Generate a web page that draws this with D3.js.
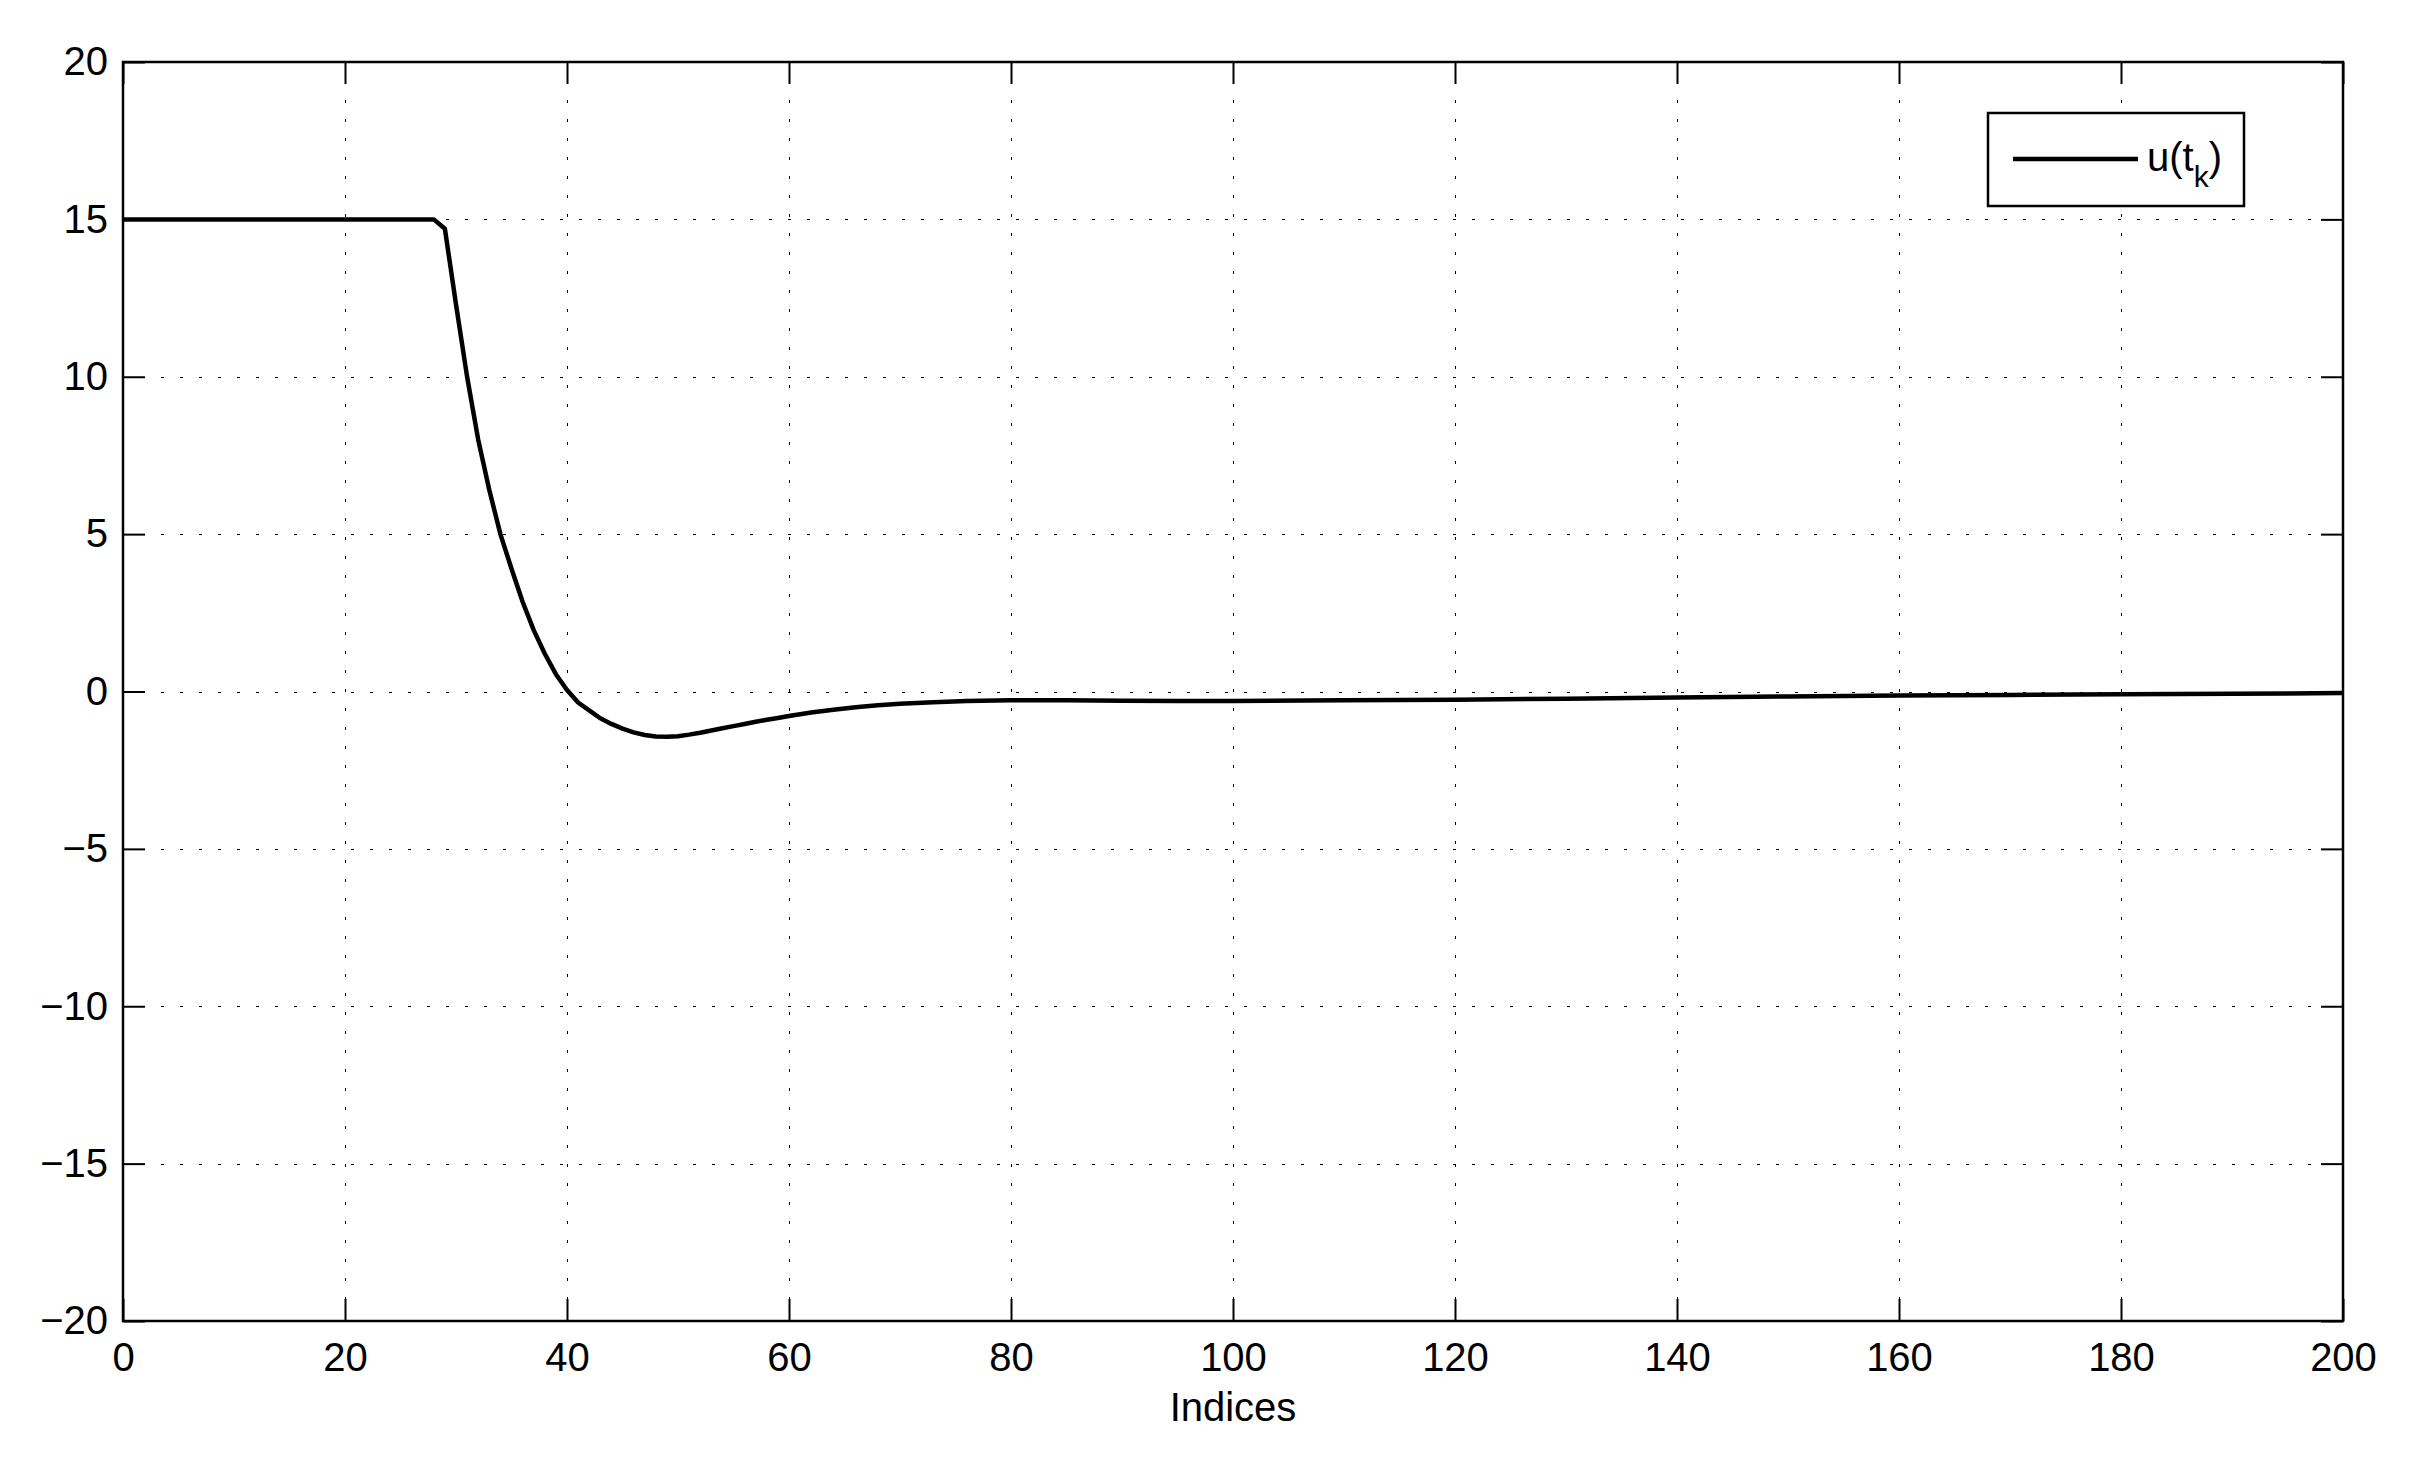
<!DOCTYPE html>
<html>
<head>
<meta charset="utf-8">
<script src="https://cdn.jsdelivr.net/npm/d3@7"></script>
<style>
  body { margin: 0; background: #fff; }
  svg { display: block; }
  text { font-family: "Liberation Sans", Arial, Helvetica, sans-serif; fill: #000; }
</style>
</head>
<body>
<svg id="chart" width="2422" height="1469"></svg>
<script>
'use strict';

// sample index and control value u(t_k)
const indices = [0, 28, 29, 30, 31, 32, 33, 34, 35, 36, 37, 38, 39, 40, 41, 42, 43, 44, 45, 46, 47, 48, 49, 50,
    51, 52, 53, 54, 55, 56, 57, 58, 59, 60, 62, 64, 66, 68, 70, 73, 76, 80, 85, 90, 95, 100,
    110, 120, 130, 140, 150, 160, 170, 180, 190, 200];
const uValues = [15, 15, 14.7, 12.3, 10.0, 8.0, 6.4, 5.0, 3.9, 2.85, 1.95, 1.2, 0.55, 0.05, -0.35, -0.6, -0.85, -1.03, -1.18, -1.3, -1.38, -1.43, -1.44, -1.42,
    -1.37, -1.31, -1.24, -1.17, -1.1, -1.03, -0.96, -0.9, -0.84, -0.78, -0.67, -0.58, -0.5, -0.44, -0.39, -0.34, -0.3, -0.28, -0.28, -0.29, -0.3, -0.3,
    -0.28, -0.26, -0.23, -0.19, -0.16, -0.13, -0.11, -0.09, -0.07, -0.05];

const xTicks = [0, 20, 40, 60, 80, 100, 120, 140, 160, 180, 200];
const yTicks = [-20, -15, -10, -5, 0, 5, 10, 15, 20];
const xLabel = "Indices";

const run = () => {
    const svg = d3.select("#chart");
    const margin = { top: 62, right: 79, bottom: 148, left: 123 },
        width = 2422 - margin.left - margin.right,
        height = 1469 - margin.top - margin.bottom;

    const x = d3.scaleLinear().domain([0, 200]).range([0, width]),
        y = d3.scaleLinear().domain([-20, 20]).range([height, 0]);

    const fmt = d => d < 0 ? "\u2212" + Math.abs(d) : String(d);
    const tickLen = 22;

    svg.append("rect").attr("width", 2422).attr("height", 1469).attr("fill", "#fff");

    const g = svg.append("g")
        .attr("transform", `translate(${margin.left},${margin.top})`);

    // dotted grid
    const grid = g.append("g")
        .attr("stroke", "#000")
        .attr("stroke-width", 1)
        .attr("stroke-dasharray", "3,16");
    grid.selectAll(".gx")
        .data(xTicks.filter(d => d > 0 && d < 200))
        .join("line")
        .attr("x1", d => Math.round(x(d)) + 0.5).attr("x2", d => Math.round(x(d)) + 0.5)
        .attr("y1", 0).attr("y2", height);
    grid.selectAll(".gy")
        .data(yTicks.filter(d => d > -20 && d < 20))
        .join("line")
        .attr("x1", 0).attr("x2", width)
        .attr("y1", d => Math.round(y(d)) + 0.5).attr("y2", d => Math.round(y(d)) + 0.5);

    // axes: ticks inside on all four sides, like the original
    const axisBottom = d3.axisBottom(x).tickValues(xTicks).tickFormat(fmt).tickSizeInner(-tickLen).tickSizeOuter(0).tickPadding(22);
    const axisTop = d3.axisTop(x).tickValues(xTicks).tickFormat("").tickSizeInner(-tickLen).tickSizeOuter(0);
    const axisLeft = d3.axisLeft(y).tickValues(yTicks).tickFormat(fmt).tickSizeInner(-tickLen).tickSizeOuter(0).tickPadding(15);
    const axisRight = d3.axisRight(y).tickValues(yTicks).tickFormat("").tickSizeInner(-tickLen).tickSizeOuter(0);

    const styleAxis = sel => {
        sel.select(".domain").remove();
        sel.selectAll(".tick line").attr("stroke", "#000").attr("stroke-width", 2);
        sel.selectAll(".tick text").attr("font-size", 40).attr("fill", "#000")
            .attr("font-family", "'Liberation Sans', Arial, sans-serif");
    };

    g.append("g").attr("transform", `translate(0,${height})`).call(axisBottom).call(styleAxis);
    g.append("g").call(axisTop).call(styleAxis);
    g.append("g").call(axisLeft).call(styleAxis);
    g.append("g").attr("transform", `translate(${width},0)`).call(axisRight).call(styleAxis);

    // the data line
    const data = indices.map((d, i) => ({ k: d, u: uValues[i] }));
    const line = d3.line()
        .x(d => x(d.k))
        .y(d => y(d.u));
    g.append("path")
        .datum(data)
        .attr("fill", "none")
        .attr("stroke", "#000")
        .attr("stroke-width", 4.5)
        .attr("stroke-linejoin", "round")
        .attr("d", line);

    // box
    g.append("rect")
        .attr("x", 0).attr("y", 0)
        .attr("width", width).attr("height", height)
        .attr("fill", "none")
        .attr("stroke", "#000")
        .attr("stroke-width", 2.5);

    // x label
    g.append("text")
        .attr("x", width / 2)
        .attr("y", height + 100)
        .attr("text-anchor", "middle")
        .attr("font-size", 40)
        .text(xLabel);

    // legend
    const lg = svg.append("g").attr("transform", "translate(1988,113)");
    lg.append("rect")
        .attr("width", 256).attr("height", 93)
        .attr("fill", "#fff")
        .attr("stroke", "#000")
        .attr("stroke-width", 2.5);
    lg.append("line")
        .attr("x1", 25).attr("x2", 150)
        .attr("y1", 46).attr("y2", 46)
        .attr("stroke", "#000")
        .attr("stroke-width", 4.5);
    const lt = lg.append("text")
        .attr("x", 159).attr("y", 58)
        .attr("font-size", 40);
    lt.append("tspan").text("u(t");
    lt.append("tspan").attr("font-size", 30).attr("dy", 16).text("k");
    lt.append("tspan").attr("dy", -16).text(")");
};

run();
</script>
</body>
</html>
